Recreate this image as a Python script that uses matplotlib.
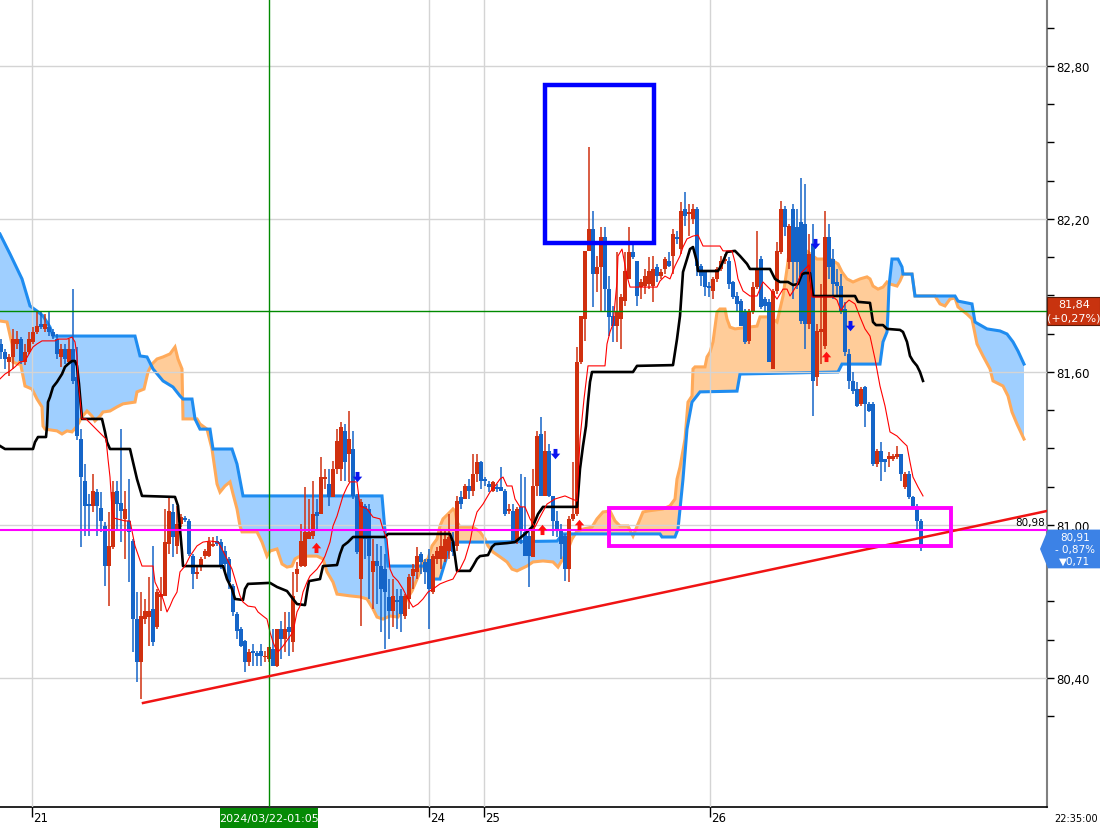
import numpy as np
import matplotlib
matplotlib.use("Agg")
import matplotlib.pyplot as plt
import matplotlib.transforms as mtransforms
from matplotlib.patches import Rectangle, Polygon
from matplotlib.path import Path

# ---------------- data ----------------
opens = [81.710, 81.678, 81.639, 81.659, 81.710, 81.729, 81.639, 81.678, 81.718, 81.757,
         81.788, 81.769, 81.776, 81.757, 81.729, 81.659, 81.690, 81.639, 81.690, 81.580,
         81.337, 81.173, 81.082, 81.075, 81.129, 81.067, 80.996, 80.839, 80.914, 81.133,
         81.086, 81.024, 81.016, 80.937, 80.631, 80.463, 80.631, 80.639, 80.671, 80.600,
         80.718, 80.722, 80.925, 81.051, 80.918, 81.004, 81.027, 81.016, 80.878, 80.808,
         80.835, 80.878, 80.878, 80.918, 80.937, 80.933, 80.898, 80.867, 80.761, 80.651,
         80.592, 80.545, 80.463, 80.506, 80.498, 80.506, 80.482, 80.475, 80.514, 80.447,
         80.592, 80.553, 80.600, 80.541, 80.808, 80.839, 80.839, 80.945, 80.957, 81.051,
         81.043, 81.180, 81.161, 81.110, 81.220, 81.220, 81.369, 81.278, 81.298, 81.114,
         80.788, 81.075, 81.063, 80.816, 80.859, 80.839, 80.827, 80.718, 80.663, 80.706,
         80.722, 80.643, 80.710, 80.800, 80.816, 80.886, 80.855, 80.867, 80.737, 80.867,
         80.867, 80.867, 80.898, 80.933, 80.918, 81.110, 81.102, 81.153, 81.133, 81.200,
         81.247, 81.180, 81.161, 81.133, 81.149, 81.149, 81.133, 81.055, 81.055, 80.937,
         81.071, 80.973, 80.957, 80.875, 81.153, 81.357, 81.114, 81.290, 81.114, 81.016,
         80.984, 80.957, 80.827, 81.024, 81.043, 81.639, 81.808, 82.075, 82.161, 81.984,
         82.012, 82.129, 81.925, 81.820, 81.780, 81.808, 81.878, 81.965, 82.071, 82.035,
         81.933, 81.937, 81.945, 81.937, 82.012, 81.976, 82.004, 82.035, 82.055, 82.129,
         82.082, 82.239, 82.220, 82.200, 82.239, 82.016, 81.992, 81.937, 81.918, 81.965,
         82.004, 82.035, 82.035, 81.953, 81.898, 81.878, 81.835, 81.722, 81.835, 81.933,
         82.043, 81.886, 81.875, 81.612, 81.918, 82.071, 82.239, 82.031, 82.239, 82.169,
         82.188, 82.180, 81.788, 82.102, 81.580, 81.757, 81.702, 82.129, 82.043, 81.953,
         81.937, 81.847, 81.671, 81.565, 81.533, 81.475, 81.541, 81.475, 81.475, 81.239,
         81.290, 81.259, 81.259, 81.259, 81.267, 81.278, 81.149, 81.200, 81.110, 81.075,
         81.016]
highs = [81.729, 81.690, 81.671, 81.769, 81.761, 81.737, 81.710, 81.757, 81.776, 81.835,
         81.835, 81.827, 81.835, 81.769, 81.749, 81.710, 81.710, 81.729, 81.925, 81.698,
         81.376, 81.239, 81.122, 81.200, 81.141, 81.129, 81.012, 81.051, 81.173, 81.173,
         81.376, 81.133, 81.180, 80.945, 80.737, 80.737, 80.710, 80.796, 80.918, 80.749,
         80.796, 81.063, 81.114, 81.082, 81.075, 81.043, 81.035, 81.024, 80.886, 80.839,
         80.875, 80.906, 80.953, 80.953, 80.957, 80.945, 80.918, 80.875, 80.769, 80.659,
         80.600, 80.549, 80.514, 80.533, 80.506, 80.533, 80.506, 80.522, 80.592, 80.592,
         80.624, 80.659, 80.659, 80.816, 80.855, 81.004, 81.149, 81.102, 81.173, 81.102,
         81.267, 81.220, 81.220, 81.251, 81.376, 81.404, 81.396, 81.447, 81.369, 81.122,
         81.102, 81.082, 81.082, 80.945, 80.925, 80.918, 80.886, 80.788, 80.788, 80.749,
         80.749, 80.729, 80.808, 80.847, 80.914, 80.894, 80.867, 80.906, 80.886, 80.914,
         80.984, 80.984, 81.043, 80.973, 81.114, 81.133, 81.161, 81.180, 81.278, 81.278,
         81.251, 81.188, 81.173, 81.173, 81.161, 81.227, 81.141, 81.082, 81.082, 81.071,
         81.200, 81.188, 80.973, 81.220, 81.369, 81.424, 81.369, 81.318, 81.114, 81.055,
         81.004, 80.965, 81.035, 81.247, 81.698, 81.820, 82.075, 82.482, 82.231, 82.055,
         82.169, 82.169, 81.976, 81.859, 82.071, 81.906, 82.071, 82.169, 82.110, 82.035,
         81.965, 82.004, 82.051, 82.055, 82.024, 82.004, 82.051, 82.071, 82.161, 82.153,
         82.267, 82.306, 82.259, 82.259, 82.247, 82.024, 81.996, 81.953, 81.973, 82.012,
         82.055, 82.063, 82.051, 81.957, 81.914, 81.886, 81.847, 81.847, 81.953, 82.153,
         82.055, 81.894, 81.886, 81.925, 82.110, 82.271, 82.251, 82.180, 82.259, 82.239,
         82.361, 82.337, 82.141, 82.180, 81.788, 81.945, 82.231, 82.180, 82.082, 82.004,
         81.984, 81.875, 81.690, 81.600, 81.561, 81.541, 81.545, 81.482, 81.482, 81.298,
         81.325, 81.259, 81.286, 81.278, 81.310, 81.278, 81.208, 81.212, 81.114, 81.082,
         81.024]
lows = [81.651, 81.612, 81.584, 81.612, 81.690, 81.631, 81.627, 81.671, 81.710, 81.749,
        81.769, 81.757, 81.741, 81.729, 81.651, 81.620, 81.631, 81.631, 81.553, 81.333,
        80.914, 80.957, 80.957, 81.051, 80.957, 80.973, 80.761, 80.682, 80.906, 80.984,
        80.933, 80.867, 80.776, 80.502, 80.384, 80.318, 80.612, 80.525, 80.525, 80.592,
        80.663, 80.722, 80.886, 80.875, 80.886, 80.992, 81.012, 80.878, 80.749, 80.788,
        80.820, 80.867, 80.875, 80.914, 80.918, 80.827, 80.808, 80.749, 80.643, 80.553,
        80.522, 80.424, 80.447, 80.447, 80.447, 80.447, 80.463, 80.463, 80.447, 80.443,
        80.475, 80.502, 80.486, 80.502, 80.737, 80.835, 80.835, 80.945, 80.945, 80.976,
        81.043, 81.141, 81.075, 81.110, 81.200, 81.173, 81.173, 81.169, 81.102, 80.886,
        80.604, 80.867, 80.710, 80.671, 80.690, 80.580, 80.514, 80.553, 80.600, 80.592,
        80.580, 80.631, 80.671, 80.749, 80.788, 80.808, 80.769, 80.592, 80.729, 80.847,
        80.827, 80.855, 80.867, 80.878, 80.898, 81.063, 81.102, 81.102, 81.114, 81.169,
        81.141, 81.153, 81.129, 81.129, 81.129, 81.133, 81.035, 81.043, 80.933, 80.925,
        80.925, 80.878, 80.757, 80.875, 81.114, 81.114, 81.114, 81.110, 80.957, 80.953,
        80.867, 80.780, 80.776, 81.016, 81.035, 81.631, 81.722, 82.075, 81.855, 81.914,
        81.839, 81.835, 81.741, 81.718, 81.718, 81.690, 81.859, 81.965, 82.043, 81.859,
        81.886, 81.906, 81.925, 81.875, 81.953, 81.965, 81.984, 82.012, 81.984, 82.102,
        82.063, 82.173, 82.133, 82.180, 81.976, 81.937, 81.898, 81.894, 81.886, 81.953,
        81.996, 82.024, 81.925, 81.886, 81.835, 81.780, 81.710, 81.710, 81.827, 81.925,
        81.847, 81.839, 81.639, 81.612, 81.906, 82.063, 82.133, 82.004, 81.886, 81.925,
        81.788, 81.690, 81.769, 81.427, 81.545, 81.631, 81.690, 81.965, 81.886, 81.894,
        81.827, 81.663, 81.533, 81.514, 81.463, 81.467, 81.384, 81.443, 81.231, 81.227,
        81.173, 81.208, 81.227, 81.251, 81.259, 81.173, 81.141, 81.102, 81.063, 80.984,
        80.898]
closes = [81.678, 81.651, 81.659, 81.729, 81.729, 81.643, 81.678, 81.729, 81.757, 81.780,
          81.776, 81.788, 81.757, 81.741, 81.671, 81.690, 81.651, 81.690, 81.565, 81.349,
          81.188, 81.075, 81.075, 81.133, 81.075, 81.016, 80.839, 80.918, 81.129, 81.082,
          81.055, 81.063, 80.973, 80.631, 80.463, 80.643, 80.663, 80.663, 80.541, 80.737,
          80.729, 80.933, 81.055, 80.953, 81.004, 81.031, 81.020, 80.886, 80.808, 80.816,
          80.867, 80.898, 80.933, 80.925, 80.925, 80.839, 80.847, 80.776, 80.659, 80.584,
          80.525, 80.463, 80.502, 80.498, 80.486, 80.486, 80.486, 80.522, 80.447, 80.592,
          80.553, 80.592, 80.580, 80.722, 80.827, 80.937, 80.973, 80.973, 81.043, 81.035,
          81.188, 81.188, 81.110, 81.220, 81.329, 81.384, 81.247, 81.337, 81.114, 80.894,
          81.090, 80.945, 80.878, 80.859, 80.839, 80.749, 80.737, 80.663, 80.722, 80.698,
          80.651, 80.722, 80.796, 80.827, 80.878, 80.855, 80.816, 80.749, 80.878, 80.898,
          80.918, 80.945, 80.953, 80.894, 81.094, 81.082, 81.153, 81.133, 81.200, 81.247,
          81.173, 81.173, 81.149, 81.169, 81.141, 81.133, 81.043, 81.063, 80.933, 81.063,
          80.976, 80.878, 80.878, 81.153, 81.349, 81.114, 81.290, 81.114, 81.016, 80.984,
          80.925, 80.827, 81.024, 81.043, 81.639, 81.820, 82.075, 82.161, 81.984, 82.012,
          82.129, 81.925, 81.816, 81.780, 81.835, 81.894, 81.996, 82.071, 82.051, 81.898,
          81.953, 81.976, 81.996, 82.004, 81.976, 81.992, 82.043, 82.016, 82.141, 82.122,
          82.231, 82.212, 82.227, 82.239, 82.016, 81.976, 81.933, 81.929, 81.965, 82.004,
          82.035, 82.043, 81.945, 81.894, 81.867, 81.780, 81.718, 81.835, 81.933, 82.004,
          81.855, 81.859, 81.639, 81.918, 82.075, 82.239, 82.169, 82.173, 82.031, 82.031,
          81.800, 81.788, 82.063, 81.565, 81.761, 81.769, 82.129, 82.012, 81.945, 81.937,
          81.839, 81.678, 81.565, 81.525, 81.467, 81.533, 81.475, 81.447, 81.239, 81.290,
          81.247, 81.247, 81.271, 81.271, 81.278, 81.200, 81.200, 81.110, 81.075, 81.016,
          80.910]

# conversion line (tenkan) - breakpoints (bar index, price)
tenkan_idx = [-0.25, 1, 2.25, 3.5, 4.75, 6, 7.25, 8, 9, 10.25, 13.5, 14.25, 16.5, 17.75, 18.5, 19,
              19.25, 20.25, 21.25, 26.25, 26.75, 27.25, 27.75, 28.25, 31, 32.25, 33.5, 35.25, 38,
              38.5, 40.5, 41.5, 42.25, 43, 44, 44.75, 46, 47.25, 49, 50.5, 52.25, 54.25, 55.25,
              56.5, 57.75, 59, 59.75, 60.5, 61.75, 63.5, 64.25, 65.5, 66.5, 67.25, 68, 68.5,
              69.25, 70.5, 71.75, 73, 74, 74.75, 75.5, 76.5, 77.25, 79, 80.25, 81, 82.25, 83,
              84, 84.75, 85.5, 86.5, 87.25, 89, 89.75, 91.5, 93, 94.75, 95.5, 96.5, 97.25, 98,
              99.25, 100.5, 101.75, 103, 104.25, 105.5, 106.75, 108, 109.75, 111.5, 113, 114,
              114.75, 116, 117.25, 118, 119, 120.5, 122.25, 123.5, 124.75, 125.5, 126.5, 127.75,
              128.5, 129.75, 131, 132.25, 133.5, 134.75, 136.5, 138.5, 141, 142.75, 144, 144.75,
              145.75, 146.75, 151, 151.5, 152.25, 153, 154, 154.25, 155.25, 156.5, 157.25, 164,
              164.75, 166, 167.25, 168.5, 169.75, 170.5, 171.5, 173, 174.25, 175.5, 179.75,
              180.5, 182.75, 183.5, 184.25, 185.5, 187.25, 189, 189.75, 190.5, 192.25, 194,
              195.5, 196.5, 197.25, 199, 200, 202, 202.75, 208, 209, 210, 211, 212, 213.5,
              214.75, 216, 217.25, 218.5, 219.75, 221, 222.25, 224, 225.5, 226.5, 227.25, 228,
              229.25, 230.5]
tenkan_val = [81.573, 81.592, 81.604, 81.620, 81.639, 81.643, 81.678, 81.698, 81.710, 81.722,
              81.722, 81.729, 81.729, 81.737, 81.718, 81.663, 81.573, 81.416, 81.416, 81.337,
              81.259, 81.188, 81.063, 81.027, 81.016, 81.016, 80.918, 80.839, 80.839, 80.776,
              80.710, 80.659, 80.682, 80.710, 80.737, 80.816, 80.839, 80.878, 80.918, 80.933,
              80.937, 80.933, 80.906, 80.867, 80.827, 80.761, 80.722, 80.698, 80.682, 80.678,
              80.659, 80.643, 80.631, 80.580, 80.541, 80.522, 80.502, 80.525, 80.553, 80.580,
              80.659, 80.682, 80.737, 80.776, 80.800, 80.827, 80.855, 80.878, 80.933, 80.996,
              81.035, 81.075, 81.114, 81.149, 81.169, 81.169, 81.075, 81.063, 81.031, 81.024,
              80.984, 80.945, 80.827, 80.800, 80.780, 80.749, 80.710, 80.678, 80.690, 80.710,
              80.737, 80.749, 80.769, 80.780, 80.788, 80.816, 80.827, 80.867, 80.933, 80.996,
              81.051, 81.082, 81.129, 81.153, 81.180, 81.188, 81.153, 81.153, 81.102, 81.071,
              81.071, 81.024, 80.992, 81.031, 81.082, 81.102, 81.114, 81.102, 81.094, 81.337,
              81.494, 81.624, 81.624, 81.710, 81.757, 81.788, 81.953, 82.055, 82.082, 81.976,
              81.933, 81.933, 81.957, 81.976, 81.965, 82.016, 82.055, 82.090, 82.122, 82.133,
              82.137, 82.094, 82.094, 82.075, 82.075, 82.031, 81.965, 81.918, 81.898, 81.898,
              81.925, 81.953, 81.925, 81.886, 81.925, 81.925, 81.898, 81.941, 81.988, 82.020,
              81.894, 81.894, 81.882, 81.839, 81.867, 81.882, 81.867, 81.816, 81.769, 81.741,
              81.651, 81.545, 81.467, 81.365, 81.349, 81.325, 81.310, 81.247, 81.188, 81.149,
              81.114]

# base line (kijun)
kijun_idx = [-0.25, 1, 8, 8.5, 9.25, 11.25, 11.5, 11.75, 12.25, 13, 14, 15.25, 16, 16.75, 17.75,
             18.5, 19, 19.5, 20.25, 25.25, 26, 26.5, 27.25, 32.25, 33, 34, 35.25, 43.5, 44.25,
             45.25, 45.5, 55.5, 56.5, 57.75, 58.5, 60.5, 61, 61.75, 67.25, 69, 71.5, 73, 74, 76,
             76.5, 77, 79.75, 80.5, 84, 84.75, 85.5, 86.75, 88, 96, 96.75, 112.25, 113, 114,
             117.25, 118, 119, 119.75, 121.75, 122.75, 123.5, 126.5, 128.5, 131, 133, 134.25,
             135.5, 144, 144.25, 144.75, 145.5, 146.25, 146.75, 147.25, 147.75, 158, 159, 168,
             168.5, 169, 169.75, 170.5, 171.5, 172.25, 173, 174, 174.25, 179.25, 180.25, 181.5,
             183.5, 184.75, 186.5, 187.25, 192.25, 193.5, 194.75, 196.75, 198, 199.25, 200.25,
             201, 202.25, 203, 213.5, 214.25, 217.25, 218, 218.75, 220.5, 221.5, 224.75, 225.5,
             226.5, 227.25, 228, 229, 229.75, 230.5]
kijun_val = [81.310, 81.298, 81.298, 81.325, 81.345, 81.345, 81.388, 81.482, 81.502, 81.541,
             81.561, 81.592, 81.620, 81.631, 81.643, 81.643, 81.624, 81.553, 81.416, 81.416,
             81.365, 81.325, 81.298, 81.298, 81.247, 81.180, 81.114, 81.110, 81.075, 80.894,
             80.839, 80.839, 80.788, 80.749, 80.710, 80.706, 80.749, 80.769, 80.773, 80.757,
             80.741, 80.710, 80.690, 80.686, 80.737, 80.780, 80.788, 80.839, 80.843, 80.886,
             80.918, 80.933, 80.953, 80.953, 80.965, 80.965, 80.933, 80.820, 80.820, 80.839,
             80.867, 80.878, 80.882, 80.914, 80.925, 80.929, 80.933, 80.965, 80.996, 81.043,
             81.071, 81.071, 81.114, 81.220, 81.310, 81.388, 81.482, 81.561, 81.600, 81.600,
             81.624, 81.627, 81.678, 81.729, 81.820, 81.992, 82.043, 82.082, 82.090, 82.031,
             81.996, 81.996, 82.024, 82.071, 82.075, 82.055, 82.024, 82.004, 82.004, 81.965,
             81.953, 81.953, 81.941, 81.945, 81.984, 81.988, 81.988, 81.898, 81.898, 81.875,
             81.871, 81.796, 81.784, 81.784, 81.769, 81.765, 81.757, 81.718, 81.663, 81.643,
             81.624, 81.600, 81.565]

# leading span A (blue) and leading span B (orange)
span_a_idx = [-0.25, 2.25, 5.25, 7.25, 9, 10.5, 12.25, 13, 33.5, 34.75, 36.5, 38, 40.5, 43, 44.75,
              45.5, 47.75, 48.5, 49.75, 52.25, 53, 57.75, 59, 60.5, 95.25, 96.75, 106, 107.75,
              109.75, 112.25, 113.5, 121.5, 139, 140.5, 164.75, 165.25, 168.5, 169.25, 170.5,
              171.5, 172.75, 174.75, 184, 184.75, 209.25, 210.25, 219.75, 220.5, 221.5, 221.75,
              222, 222.75, 224.25, 225.25, 225.5, 227.75, 228.5, 238.5, 239.25, 242.75, 243.5,
              246.5, 249.75, 251.5, 253, 254.25, 255.75]
span_a_val = [82.141, 82.063, 81.965, 81.859, 81.839, 81.820, 81.776, 81.741, 81.741, 81.663,
              81.659, 81.612, 81.565, 81.541, 81.506, 81.494, 81.494, 81.416, 81.376, 81.376,
              81.298, 81.298, 81.239, 81.114, 81.114, 80.839, 80.839, 80.788, 80.788, 80.918,
              80.933, 80.933, 80.937, 80.965, 80.965, 80.953, 80.953, 80.984, 81.180, 81.376,
              81.482, 81.522, 81.525, 81.592, 81.600, 81.631, 81.631, 81.718, 81.757, 81.835,
              81.937, 82.043, 82.043, 82.012, 81.984, 81.984, 81.898, 81.898, 81.878, 81.867,
              81.796, 81.769, 81.761, 81.749, 81.718, 81.682, 81.631]
span_b_idx = [-0.25, 1.5, 2.75, 3, 4.25, 4.75, 5.5, 6, 7.75, 9, 10.25, 10.5, 11, 14, 15.25, 16.5,
              17.75, 19, 20.25, 21.5, 22.75, 23.5, 24.75, 25.5, 27.25, 29, 30.5, 33.5, 34, 35.75,
              36.75, 37.75, 39, 40.5, 42.25, 43.5, 44.25, 45.25, 45.5, 49, 49.75, 51.5, 52.75, 54,
              54.75, 56, 57.25, 58, 59, 59.75, 60.25, 64, 65.25, 66.5, 67.25, 69, 70.25, 71.5,
              72.75, 73.5, 74.75, 79, 80.5, 81.5, 83, 84, 87.25, 89.75, 91.5, 93, 94, 95.5, 97.25,
              99.25, 100.5, 101.5, 102.75, 104, 104.75, 105.5, 106.75, 107.75, 109, 109.75, 110.5,
              111.75, 113, 113.5, 114, 114.75, 118, 119.75, 121, 121.75, 123, 124.75, 126.5,
              127.75, 129, 131.5, 133, 135.5, 138, 139.25, 141.5, 142.75, 144, 145.5, 147.75, 149,
              150.5, 152.25, 153.5, 154.75, 156.75, 158, 159.25, 160.5, 161.75, 165.5, 167.25,
              168.5, 169, 169.75, 171, 171.75, 172.75, 173, 173.5, 176, 176.5, 177.25, 178, 179,
              179.75, 181, 181.5, 182.25, 183.5, 189, 189.75, 192.25, 194, 195.5, 196.5, 197.25,
              199, 199.75, 204, 207.25, 209.25, 210.25, 211.5, 213, 214.75, 216.5, 217.25, 218,
              219.25, 220.5, 221.5, 222.25, 224, 224.75, 225.5, 227.75, 228.5, 233.5, 234.75, 236,
              237.25, 238.5, 239.25, 241.5, 242.75, 244, 245.5, 247.25, 248, 250.5, 251.75,
              252.75, 254, 255.75]
span_b_val = [81.800, 81.796, 81.710, 81.639, 81.631, 81.643, 81.584, 81.545, 81.533, 81.494,
              81.463, 81.388, 81.376, 81.369, 81.357, 81.369, 81.365, 81.388, 81.424, 81.447,
              81.427, 81.408, 81.427, 81.443, 81.447, 81.463, 81.475, 81.482, 81.522, 81.533,
              81.600, 81.631, 81.651, 81.659, 81.671, 81.698, 81.651, 81.612, 81.416, 81.416,
              81.396, 81.376, 81.298, 81.161, 81.129, 81.153, 81.169, 81.122, 81.063, 80.996,
              80.973, 80.973, 80.933, 80.878, 80.898, 80.906, 80.847, 80.835, 80.839, 80.867,
              80.878, 80.878, 80.867, 80.816, 80.776, 80.729, 80.722, 80.718, 80.710, 80.671,
              80.639, 80.631, 80.643, 80.639, 80.671, 80.710, 80.741, 80.788, 80.816, 80.855,
              80.867, 80.918, 80.945, 80.996, 81.024, 81.043, 81.063, 81.055, 81.012, 80.992,
              80.992, 80.973, 80.945, 80.918, 80.894, 80.875, 80.855, 80.827, 80.820, 80.839,
              80.855, 80.859, 80.855, 80.835, 80.894, 80.945, 80.976, 80.984, 80.992, 81.024,
              81.051, 81.055, 81.016, 80.996, 80.996, 80.957, 81.004, 81.051, 81.055, 81.063,
              81.075, 81.102, 81.180, 81.227, 81.337, 81.482, 81.506, 81.612, 81.620, 81.620,
              81.659, 81.678, 81.718, 81.835, 81.847, 81.847, 81.808, 81.776, 81.769, 81.780,
              81.816, 81.816, 81.796, 81.898, 82.004, 82.094, 82.082, 82.094, 82.043, 82.043,
              82.024, 81.992, 81.965, 81.953, 81.965, 81.973, 81.965, 81.937, 81.925, 81.933,
              81.953, 81.945, 81.937, 81.957, 81.984, 81.984, 81.898, 81.898, 81.867, 81.859,
              81.886, 81.890, 81.855, 81.827, 81.808, 81.710, 81.663, 81.612, 81.565, 81.545,
              81.506, 81.443, 81.396, 81.337]

# trade signals
buy_idx = [78.75, 135.25, 144.5, 206.25]
buy_val = [80.914, 80.984, 81.004, 81.663]
sell_idx = [89, 138.5, 203.5, 212.25]
sell_val = [81.188, 81.278, 82.102, 81.780]

# axis / annotation values
y_ticks = [80.40, 81.00, 81.60, 82.20, 82.80]
day_pos = [7.75, 107, 120.75, 177.25]
day_labels = ['21', '24', '25', '26']
crosshair_idx = 67
crosshair_label = '2024/03/22-01:05'
ref_price = 81.84
ref_change = '(+0,27%)'
last_price = 80.91
last_pct = '- 0,87%'
last_diff = '\u25bc0,71'
support_level = 80.98
trend_idx = [35.5, 261.5]
trend_val = [80.302, 81.055]
blue_box = (136.0, 82.106, 163.25, 82.725)
magenta_box = (151.9, 80.916, 237.6, 81.065)
time_label = '22:35:00'

# ---------------- drawing ----------------
UP = '#d0300f'
DOWN = '#1565c8'
W, H = 1100, 829
fig = plt.figure(figsize=(W / 100, H / 100), dpi=100)
ax = fig.add_axes([0, 21 / H, 1047 / W, 808 / H])
ax.set_xlim(-0.25, 261.5)
ax.set_ylim(79.8941, 83.0627)

def fmt(v):
    return f"{v:.2f}".replace('.', ',')

# cloud
grid = np.linspace(-0.25, 255.75, 4000)
a = np.interp(grid, span_a_idx, span_a_val)
b = np.interp(grid, span_b_idx, span_b_val)
ax.fill_between(grid, a, b, where=a >= b, interpolate=True, color='#9fcfff', lw=0, zorder=1)
ax.fill_between(grid, a, b, where=a < b, interpolate=True, color='#ffcc99', lw=0, zorder=1)
ax.plot(span_b_idx, span_b_val, color='#ffaa5a', lw=2.2, zorder=2, solid_joinstyle='miter')
ax.plot(span_a_idx, span_a_val, color='#1e8cf0', lw=2.2, zorder=2.1, solid_joinstyle='miter')

# candles
O = np.array(opens); Hh = np.array(highs); L = np.array(lows); C = np.array(closes)
x = np.arange(len(O))
cols = np.where(C >= O, UP, DOWN)
ax.vlines(x, L, Hh, colors=cols, lw=1.1, zorder=4)
body_h = np.maximum(np.abs(C - O), 0.006)
ax.bar(x, body_h, bottom=np.minimum(O, C), width=0.8, color=cols, lw=0, zorder=4)

ax.plot(kijun_idx, kijun_val, color='black', lw=1.9, zorder=5)
ax.plot(tenkan_idx, tenkan_val, color='#ff0000', lw=0.8, zorder=5.5)

# signal arrows
down_arrow = Path([(-0.35, 1.0), (0.35, 1.0), (0.35, 0.15), (0.85, 0.15), (0, -0.85),
                   (-0.85, 0.15), (-0.35, 0.15), (-0.35, 1.0)], closed=True)
up_arrow = Path([(-0.35, -1.0), (0.35, -1.0), (0.35, -0.15), (0.85, -0.15), (0, 0.85),
                 (-0.85, -0.15), (-0.35, -0.15), (-0.35, -1.0)], closed=True)
ax.plot(sell_idx, sell_val, ls='none', marker=down_arrow, ms=8, color='#0a14f0', mew=0, zorder=7)
ax.plot(buy_idx, buy_val, ls='none', marker=up_arrow, ms=8, color='#ff1010', mew=0, zorder=7)

# reference lines
ax.axhline(ref_price, color='#008a00', lw=1.0, zorder=6)
ax.axvline(crosshair_idx, color='#008a00', lw=1.0, zorder=6)
ax.axhline(support_level, color='#ff00ff', lw=1.5, zorder=6)
ax.plot(trend_idx, trend_val, color='#f01414', lw=1.8, zorder=6)
ax.add_patch(Rectangle((blue_box[0], blue_box[1]), blue_box[2] - blue_box[0], blue_box[3] - blue_box[1],
                       fill=False, ec='#0000ff', lw=3.2, zorder=8, joinstyle='miter'))
ax.add_patch(Rectangle((magenta_box[0], magenta_box[1]), magenta_box[2] - magenta_box[0],
                       magenta_box[3] - magenta_box[1], fill=False, ec='#ff00ff', lw=2.8, zorder=8,
                       joinstyle='miter'))
ax.text(261.0, support_level + 0.012, fmt(support_level), ha='right', va='bottom', fontsize=7.5,
        color='black', zorder=9)

# axes styling
ax.set_yticks(y_ticks)
ax.set_yticklabels([fmt(v) for v in y_ticks])
ax.set_yticks(np.arange(80.25, 83.0, 0.15), minor=True)
ax.yaxis.tick_right()
ax.tick_params(axis='y', which='both', direction='out', length=5, width=1, pad=2, labelsize=8.5)
ax.set_xticks(day_pos)
ax.set_xticklabels([])
ax.tick_params(axis='x', direction='out', length=7, width=1, pad=1)
ax.grid(True, which='major', color='#d4d4d4', lw=1.0, zorder=1.5)
ax.set_axisbelow(False)
for gl in ax.get_xgridlines() + ax.get_ygridlines():
    gl.set_zorder(1.5)
ax.spines['top'].set_visible(False)
ax.spines['left'].set_visible(False)
ax.spines['right'].set_color('#808080')
ax.spines['right'].set_linewidth(1.5)
ax.spines['bottom'].set_color('black')
ax.spines['bottom'].set_linewidth(1.2)

tr_xf = mtransforms.blended_transform_factory(ax.transData, fig.transFigure)
for p, lab in zip(day_pos, day_labels):
    fig.text(p + 0.4, 10 / H, lab, transform=tr_xf, ha='left', va='center', fontsize=8.5,
             color='black')

# right-side price boxes
tr_fy = mtransforms.blended_transform_factory(fig.transFigure, ax.transData)
x0 = 1047 / W
fig.add_artist(Rectangle((x0, ref_price - 0.056), 1 - x0, 0.112, transform=tr_fy,
                         fc='#c8330f', ec='#5a1a08', lw=0.8, zorder=10))
fig.text(1074 / W, ref_price + 0.026, fmt(ref_price), transform=tr_fy, ha='center', va='center',
         color='white', fontsize=8, zorder=11)
fig.text(1074 / W, ref_price - 0.027, ref_change, transform=tr_fy, ha='center', va='center',
         color='white', fontsize=8, zorder=11)

xl = 1040 / W
xb = 1048 / W
top = last_price + 0.072
bot = last_price - 0.08
fig.add_artist(Polygon([(xb, top), (1.0, top), (1.0, bot), (xb, bot), (xl, last_price - 0.004)],
                       closed=True, transform=tr_fy, fc='#3c82e6', ec='none', zorder=10))
fig.text(1075 / W, last_price + 0.044, fmt(last_price), transform=tr_fy, ha='center', va='center',
         color='white', fontsize=7.5, zorder=11)
fig.text(1075 / W, last_price - 0.004, last_pct, transform=tr_fy, ha='center', va='center',
         color='white', fontsize=7.5, zorder=11)
fig.text(1075 / W, last_price - 0.052, last_diff, transform=tr_fy, ha='center', va='center',
         color='white', fontsize=7.5, zorder=11)

# crosshair time label
fig.add_artist(Rectangle((crosshair_idx - 12.25, 0), 24.5, 20 / H, transform=tr_xf,
                         fc='#058a05', ec='none', zorder=10))
fig.text(crosshair_idx, 10 / H, crosshair_label, transform=tr_xf, ha='center', va='center',
         color='white', fontsize=8, zorder=11)
fig.text(1098 / W, 10 / H, time_label, ha='right', va='center', fontsize=7, color='black')

fig.savefig('out.png', dpi=100)
